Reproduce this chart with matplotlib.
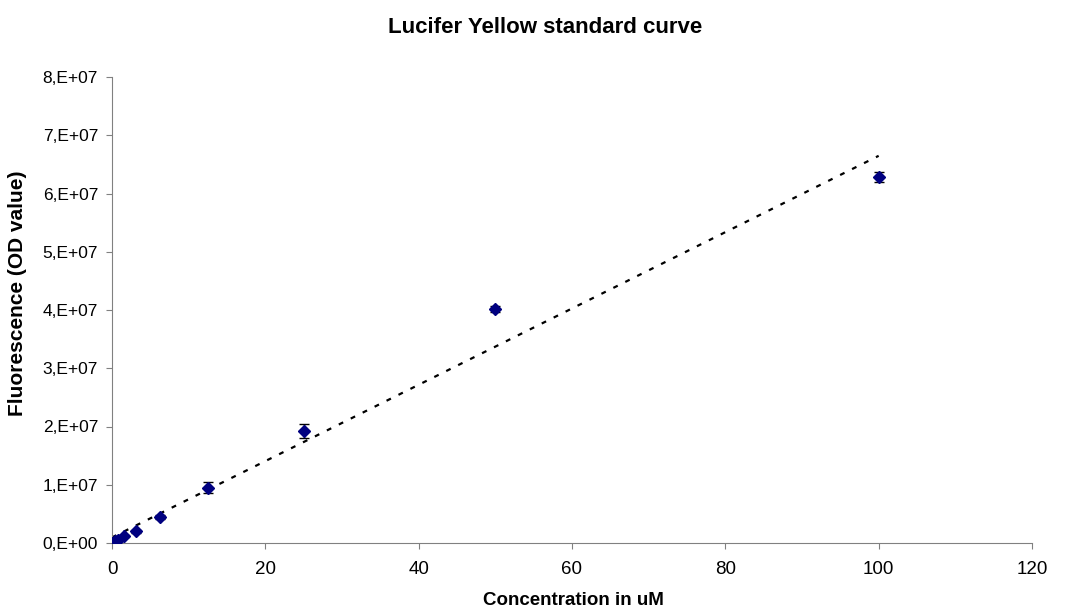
import numpy as np
import matplotlib
matplotlib.use("Agg")
import matplotlib.pyplot as plt
from matplotlib.ticker import FuncFormatter

plt.rcParams['font.family'] = ['Liberation Sans', 'DejaVu Sans']

conc = [0, 0.39, 0.78, 1.5625, 3.125, 6.25, 12.5, 25, 50, 100]
fluor = [0.0, 0.03e7, 0.06e7, 0.125e7, 0.20e7, 0.45e7, 0.95e7, 1.92e7, 4.02e7, 6.28e7]
err = [0.0, 0.01e7, 0.01e7, 0.02e7, 0.02e7, 0.03e7, 0.09e7, 0.12e7, 0.05e7, 0.086e7]

W, H = 1082, 614
fig = plt.figure(figsize=(W / 100, H / 100), dpi=100)
ax = fig.add_axes([112 / W, 1 - 543 / H, 920 / W, 466 / H])

slope, intercept = np.polyfit(conc, fluor, 1)
xt = np.array([0, 100])
ax.plot(xt, slope * xt + intercept, color='black', linestyle=(0, (2.2, 3.8)), linewidth=1.6, zorder=2)

ax.errorbar(conc, fluor, yerr=err, fmt='D', color='#000080', markersize=6,
            ecolor='black', elinewidth=1, capsize=3.3, capthick=1, zorder=3)

ax.set_xlim(0, 120)
ax.set_ylim(0, 8e7)
ax.set_xticks(range(0, 121, 20))
ax.set_yticks([i * 1e7 for i in range(9)])
ax.yaxis.set_major_formatter(FuncFormatter(lambda v, p: "0,E+00" if v == 0 else f"{int(round(v/1e7))},E+07"))
ax.spines['top'].set_visible(False)
ax.spines['right'].set_visible(False)
for s in ['left', 'bottom']:
    ax.spines[s].set_color('#808080')
ax.tick_params(axis='both', direction='out', length=4, color='#808080')
ax.tick_params(axis='y', labelsize=12.5, pad=6)
ax.tick_params(axis='x', labelsize=13.5, pad=9)

fig.text(573 / W, 1 - 605 / H, "Concentration in uM", ha='center', va='baseline',
         fontsize=13.5, fontweight='bold')
fig.text(18 / W, 1 - 293 / H, "Fluorescence (OD value)", ha='center', va='center',
         rotation=90, fontsize=15, fontweight='bold')
fig.text(545 / W, 1 - 33 / H, "Lucifer Yellow standard curve", ha='center', va='baseline',
         fontsize=16, fontweight='bold')

fig.savefig("out.png", dpi=100)
